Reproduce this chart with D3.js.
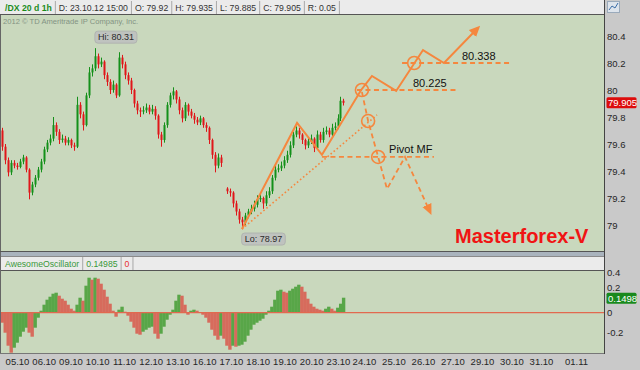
<!DOCTYPE html>
<html>
<head>
<meta charset="utf-8">
<script src="https://cdn.jsdelivr.net/npm/d3@7/dist/d3.min.js"></script>
<style>
  body { margin: 0; background: #c9c9c9; }
  svg { display: block; font-family: "Liberation Sans", Arial, sans-serif; }
</style>
</head>
<body>
<div id="chart"></div>
<script>
// /DX hourly chart, candles (one candle per ~2.7h)
var candleStart = -0.56, candleStep = 0.112;   // in trading-day units

var opens = [79.70,79.58,79.48,79.39,79.46,79.44,79.43,79.47,79.50,79.41,79.24,79.30,79.35,79.41,79.47,79.56,79.61,79.64,79.74,79.69,
  79.63,79.64,79.61,79.63,79.59,79.58,79.89,79.82,79.74,79.96,80.13,80.16,80.25,80.19,80.21,80.11,80.06,80.00,80.04,79.96,
  80.24,80.19,80.11,80.07,80.00,79.90,79.85,79.84,79.85,79.87,79.84,79.86,79.81,79.67,79.63,79.74,79.89,79.96,79.99,79.93,
  79.85,79.79,79.89,79.84,79.81,79.78,79.76,79.79,79.74,79.72,79.63,79.52,79.44,79.50,null,79.27,79.25,79.24,79.16,79.10,
  79.04,79.02,79.07,79.10,79.12,79.15,79.19,79.20,79.16,79.22,79.25,79.35,79.41,79.42,79.44,79.48,79.52,79.59,79.67,79.70,
  79.67,79.63,79.59,79.62,79.64,79.57,79.67,79.63,79.69,79.70,79.67,79.72,79.73,79.79,79.92];
var highs = [79.72,79.60,79.50,79.48,79.48,79.46,79.49,79.52,79.51,79.42,79.32,79.37,79.43,79.49,79.58,79.63,79.67,79.80,79.76,79.71,
  79.67,79.66,79.65,79.64,79.61,79.95,79.91,79.84,79.98,80.17,80.19,80.31,80.27,80.24,80.22,80.13,80.08,80.07,80.05,80.28,
  80.26,80.21,80.13,80.09,80.01,79.92,79.87,79.88,79.90,79.89,79.89,79.88,79.82,79.69,79.76,79.91,79.98,80.02,80.00,79.95,
  79.87,79.91,79.90,79.86,79.83,79.80,79.81,79.80,79.76,79.73,79.64,79.54,79.53,79.52,null,79.28,79.27,79.25,79.18,79.12,
  79.06,79.09,79.12,79.15,79.18,79.22,79.23,79.21,79.25,79.28,79.37,79.44,79.45,79.47,79.51,79.55,79.62,79.69,79.73,79.72,
  79.68,79.64,79.65,79.67,79.65,79.70,79.69,79.72,79.73,79.72,79.75,79.76,79.82,79.95,79.935];
var lows = [79.55,79.45,79.36,79.37,79.42,79.41,79.42,79.45,79.39,79.19,79.22,79.28,79.33,79.39,79.45,79.54,79.59,79.62,79.66,79.60,
  79.61,79.59,79.59,79.57,79.55,79.57,79.79,79.70,79.73,79.94,80.10,80.14,80.16,80.17,80.08,80.03,79.97,79.98,79.94,79.95,
  80.16,80.08,80.04,79.97,79.87,79.82,79.80,79.82,79.83,79.82,79.82,79.78,79.64,79.58,79.61,79.72,79.87,79.93,79.90,79.82,
  79.76,79.77,79.81,79.79,79.75,79.74,79.74,79.72,79.69,79.60,79.49,79.39,79.42,79.43,null,79.23,79.21,79.13,79.07,79.01,
  78.97,79.00,79.05,79.08,79.10,79.13,79.17,79.12,79.14,79.20,79.23,79.33,79.39,79.40,79.42,79.46,79.50,79.57,79.65,79.64,
  79.60,79.56,79.57,79.60,79.54,79.56,79.61,79.61,79.67,79.65,79.66,79.70,79.71,79.77,79.885];
var closes = [79.58,79.48,79.39,79.46,79.44,79.43,79.47,79.50,79.41,79.24,79.30,79.35,79.41,79.47,79.56,79.61,79.64,79.74,79.69,79.63,
  79.64,79.61,79.63,79.59,79.58,79.89,79.82,79.74,79.96,80.13,80.16,80.25,80.19,80.21,80.11,80.06,80.00,80.04,79.96,80.24,
  80.19,80.11,80.07,80.00,79.90,79.85,79.84,79.85,79.87,79.84,79.86,79.81,79.67,79.63,79.74,79.89,79.96,79.99,79.93,79.85,
  79.79,79.89,79.84,79.81,79.78,79.76,79.79,79.74,79.72,79.63,79.52,79.44,79.50,79.46,null,79.25,79.24,79.16,79.10,79.04,
  79.02,79.07,79.10,79.12,79.15,79.19,79.20,79.16,79.22,79.25,79.35,79.41,79.42,79.44,79.48,79.52,79.59,79.67,79.70,79.67,
  79.63,79.59,79.62,79.64,79.57,79.67,79.63,79.69,79.70,79.67,79.72,79.73,79.79,79.92,79.905];

var aoValues = [-0.10,-0.20,-0.33,-0.40,-0.35,-0.30,-0.24,-0.19,-0.15,-0.20,-0.24,-0.15,-0.05,0.02,0.08,0.13,0.16,0.19,0.20,0.17,
  0.14,0.12,0.08,0.04,0.02,0.08,0.15,0.12,0.27,0.35,0.33,0.35,0.34,0.29,0.23,0.16,0.09,0.02,-0.04,0.03,
  0.06,0.01,-0.03,-0.09,-0.15,-0.21,-0.22,-0.19,-0.17,-0.15,-0.14,-0.21,-0.26,-0.21,-0.14,-0.07,-0.02,0.03,0.12,0.18,
  0.17,0.08,-0.02,0.02,0.03,0.02,0.00,-0.02,-0.05,-0.10,-0.17,-0.23,-0.27,-0.23,-0.26,-0.33,-0.37,-0.33,-0.34,-0.33,
  -0.32,-0.29,-0.23,-0.17,-0.12,-0.10,-0.08,-0.06,-0.02,0.02,0.06,0.13,0.22,0.23,0.21,0.20,0.22,0.24,0.26,0.28,
  0.26,0.21,0.14,0.09,0.06,0.04,0.03,0.02,0.04,0.06,0.04,0.02,0.05,0.09,0.14985];

var dateLabels = ["05.10","06.10","09.10","10.10","11.10","12.10","13.10","16.10","17.10","18.10","19.10","20.10",
  "23.10","24.10","25.10","26.10","27.10","29.10","30.10","31.10","01.11"];
var dateDays = [0,1,2,3,4,5,6,7,8,9,10,11,12,13,14,15,16,17,18,19,20];
var priceTicks = [79, 79.2, 79.4, 79.6, 79.8, 80, 80.2, 80.4];
var aoTicks = [-0.2, 0, 0.2, 0.4];
var headerCells = ["/DX 20 d 1h", "D: 23.10.12 15:00", "O: 79.92", "H: 79.935", "L: 79.885", "C: 79.905", "R: 0.05"];
var aoCells = ["AwesomeOscillator", "0.14985", "0"];

// hand-drawn forecast, as [day, price]
var wavePath = [[8.41,78.97],[10.47,79.756],[11.40,79.52],[12.89,80.0],[13.27,80.104],[14.09,79.993],[15.0,80.296],[15.71,80.2],[16.86,80.459]];
var dropPath = [[12.92,79.985],[13.14,79.77],[13.48,79.504],[13.78,79.267],[14.39,79.504],[15.24,79.096]];
var trendLine = [[8.41,78.97],[13.44,79.815]];
var levelNames = ["80.225", "80.338", "Pivot MF"];
var levelPrices = [80.0, 80.2, 79.504];
var levelFrom = [12.73, 14.29, 11.40];
var levelTo = [16.19, 18.02, 15.37];
var levelLabelDay = [14.66, 16.32, 13.85];
var rings = [[12.92,80.0],[13.14,79.77],[13.48,79.504],[14.70,80.2]];

var W = 640, H = 370;
var plotR = 604, mainTop = 15, mainBot = 251, aoTop = 271, aoBot = 353;
var orange = "#f5873e";

var svg = d3.select("#chart").append("svg").attr("width", W).attr("height", H);

var x = d3.scaleLinear().domain([0, 12, 13, 19, 20]).range([17, 338, 364, 541, 576]);
var yP = d3.scaleLinear().domain([79, 80]).range([225, 90]);
var yA = d3.scaleLinear().domain([0, 0.4]).range([312.7, 272.7]);
var cx = function(i) { return x(candleStart + i * candleStep); };
var px = function(d) { return x(d[0]); }, py = function(d) { return yP(d[1]); };

// backgrounds
svg.append("rect").attr("width", W).attr("height", H).attr("fill", "#c9c9c9");
svg.append("rect").attr("x", 0).attr("y", mainTop).attr("width", plotR).attr("height", mainBot - mainTop).attr("fill", "#c9d8bd");
svg.append("rect").attr("x", 0).attr("y", aoTop).attr("width", plotR).attr("height", aoBot - aoTop).attr("fill", "#c9d8bd");
svg.append("rect").attr("x", 0).attr("y", 252).attr("width", plotR).attr("height", 4).attr("fill", "#a9b3bd");

// header bars
function headerBar(y0, cells, colors, bold) {
  var g = svg.append("g");
  g.append("rect").attr("x", 0).attr("y", y0).attr("width", plotR).attr("height", 14).attr("fill", "#ebebeb");
  g.append("line").attr("x1", 0).attr("x2", plotR).attr("y1", y0 + 14.5).attr("y2", y0 + 14.5).attr("stroke", "#555");
  var cxp = 1;
  cells.forEach(function(t, i) {
    var txt = g.append("text").attr("x", cxp + 4).attr("y", y0 + 10.5)
      .attr("font-size", "8.7px").attr("fill", colors[i] || "#333")
      .attr("font-weight", bold && i === 0 ? "bold" : null).text(t);
    var w = txt.node().getComputedTextLength();
    cxp += w + 7;
    g.append("line").attr("x1", cxp + 0.5).attr("x2", cxp + 0.5).attr("y1", y0 + 1).attr("y2", y0 + 14)
      .attr("stroke", "#a8a8a8");
  });
}
headerBar(0, headerCells, ["#1c8c1c"], true);
headerBar(256, aoCells, ["#3a983a", "#3a983a", "#e83030"], false);
svg.append("line").attr("x1", 0).attr("x2", plotR).attr("y1", 256.5).attr("y2", 256.5).attr("stroke", "#8a8a8a");

// top-right icon
svg.append("rect").attr("x", 607.5).attr("y", 1.5).attr("width", 12).attr("height", 11).attr("fill", "#dde4ec").attr("stroke", "#9aaabb");
svg.append("path").attr("d", "M609,10L612,6L615,8L618,3").attr("fill", "none").attr("stroke", "#3b6ea8");

svg.append("text").attr("x", 3).attr("y", 24).attr("font-size", "7.6px").attr("fill", "#839383")
  .text("2012 \u00a9 TD Ameritrade IP Company, Inc.");

// candles
svg.append("clipPath").attr("id", "mainClip").append("rect")
  .attr("x", 0).attr("y", mainTop).attr("width", plotR).attr("height", mainBot - mainTop);
var candleG = svg.append("g").attr("clip-path", "url(#mainClip)");
var idx = d3.range(closes.length).filter(function(i) { return closes[i] != null; });
var upCol = "#14901a", dnCol = "#e0161a";
var cg = candleG.selectAll("g.c").data(idx).enter().append("g")
  .attr("fill", function(i) { return closes[i] >= opens[i] ? upCol : dnCol; })
  .attr("stroke", function(i) { return closes[i] >= opens[i] ? upCol : dnCol; });
cg.append("line").attr("x1", function(i) { return Math.round(cx(i)) + 0.5; }).attr("x2", function(i) { return Math.round(cx(i)) + 0.5; })
  .attr("y1", function(i) { return yP(highs[i]); }).attr("y2", function(i) { return yP(lows[i]); });
cg.append("rect").attr("stroke", "none")
  .attr("x", function(i) { return Math.round(cx(i)) - 0.5; }).attr("width", 2)
  .attr("y", function(i) { return yP(Math.max(opens[i], closes[i])); })
  .attr("height", function(i) { return Math.max(1, Math.abs(yP(opens[i]) - yP(closes[i]))); });

// Hi / Lo boxes
var hiIdx = d3.maxIndex(highs), loIdx = d3.minIndex(lows);
function tag(x0, ycenter, label) {
  var g = svg.append("g");
  var t = g.append("text").attr("x", x0 + 3).attr("y", ycenter + 3.3).attr("font-size", "9px").attr("fill", "#2a2a2a").text(label);
  var w = t.node().getComputedTextLength();
  g.insert("rect", "text").attr("x", x0).attr("y", ycenter - 6).attr("width", w + 6).attr("height", 12).attr("rx", 3)
    .attr("fill", "#bfc3bf").attr("stroke", "#b0b4b0");
}
tag(cx(hiIdx), yP(highs[hiIdx]) - 11, "Hi: " + highs[hiIdx].toFixed(2));
tag(cx(loIdx), yP(lows[loIdx]) + 10, "Lo: " + lows[loIdx].toFixed(2));

// forecast drawing
var defs = svg.append("defs");
defs.append("marker").attr("id", "arrow").attr("viewBox", "0 -5 10 10").attr("refX", 7).attr("refY", 0)
  .attr("markerUnits", "userSpaceOnUse").attr("markerWidth", 11).attr("markerHeight", 11).attr("orient", "auto")
  .append("path").attr("d", "M0,-4.5L10,0L0,4.5Z").attr("fill", orange);

var line = d3.line().x(px).y(py);
var fg = svg.append("g").attr("fill", "none").attr("stroke", orange);
fg.append("path").attr("d", line(trendLine)).attr("stroke-width", 1.6).attr("stroke-dasharray", "1.6,2.4");
levelPrices.forEach(function(p, i) {
  fg.append("line").attr("x1", x(levelFrom[i])).attr("x2", x(levelTo[i])).attr("y1", yP(p)).attr("y2", yP(p))
    .attr("stroke-width", 1.8).attr("stroke-dasharray", "5,3.5");
  svg.append("text").attr("x", x(levelLabelDay[i])).attr("y", yP(p) - 3.5).attr("font-size", "11px")
    .attr("fill", "#111").text(levelNames[i]);
});
fg.append("path").attr("d", line(dropPath)).attr("stroke-width", 1.8).attr("stroke-dasharray", "5,3.5")
  .attr("marker-end", "url(#arrow)");
fg.append("path").attr("d", line(wavePath)).attr("stroke-width", 2).attr("stroke-linejoin", "miter")
  .attr("marker-end", "url(#arrow)");
fg.selectAll("circle").data(rings).enter().append("circle")
  .attr("cx", px).attr("cy", py).attr("r", 6.5).attr("stroke-width", 1.6);

svg.append("text").attr("x", 455).attr("y", 243).attr("font-size", "20px").attr("font-weight", "bold")
  .attr("fill", "#f01414").text("Masterforex-V");

// awesome oscillator
var bw = cx(1) - cx(0);
svg.append("g").selectAll("rect").data(aoValues).enter().append("rect")
  .attr("x", function(d, i) { return cx(i) - bw / 2; }).attr("width", bw + 0.4)
  .attr("y", function(d) { return Math.min(yA(d), yA(0)); })
  .attr("height", function(d) { return Math.abs(yA(d) - yA(0)); })
  .attr("fill", function(d, i) { return i > 0 && d >= aoValues[i - 1] ? "#58a648" : "#d76b5c"; });
svg.append("line").attr("x1", 0).attr("x2", plotR).attr("y1", yA(0)).attr("y2", yA(0)).attr("stroke", "#e2694f").attr("stroke-width", 1.2);

// frames
svg.append("line").attr("x1", plotR + 0.5).attr("x2", plotR + 0.5).attr("y1", 0).attr("y2", aoBot + 1).attr("stroke", "#444");
svg.append("line").attr("x1", 0.5).attr("x2", 0.5).attr("y1", mainTop).attr("y2", aoBot).attr("stroke", "#666");
svg.append("line").attr("x1", 0).attr("x2", plotR).attr("y1", mainBot + 0.5).attr("y2", mainBot + 0.5).attr("stroke", "#555");
svg.append("line").attr("x1", 0).attr("x2", plotR).attr("y1", aoBot + 0.5).attr("y2", aoBot + 0.5).attr("stroke", "#777");

// axes
var fmt = function(d) { return String(+d.toFixed(1)); };
var ay = svg.append("g").attr("transform", "translate(" + (plotR + 1) + ",0)")
  .call(d3.axisRight(yP).tickValues(priceTicks).tickSize(0).tickPadding(2).tickFormat(fmt));
var aa = svg.append("g").attr("transform", "translate(" + (plotR + 1) + ",0)")
  .call(d3.axisRight(yA).tickValues(aoTicks).tickSize(0).tickPadding(2).tickFormat(fmt));
var ax = svg.append("g").attr("transform", "translate(0," + (aoBot + 1) + ")")
  .call(d3.axisBottom(x).tickValues(dateDays).tickSize(0).tickPadding(4).tickFormat(function(d, i) { return dateLabels[i]; }));
[ay, aa, ax].forEach(function(a) {
  a.select(".domain").remove();
  a.selectAll("text").attr("font-family", "'Liberation Sans', Arial, sans-serif").attr("font-size", "9.5px").attr("fill", "#262626");
});
// the 0.2 label sits just above the last-value tag
aa.selectAll(".tick").filter(function(d) { return d === 0.2; }).select("text").attr("dy", "-0.25em");

// last value tags
function valueTag(yv, label, fill) {
  svg.append("rect").attr("x", plotR + 2.5).attr("y", yv - 5.5).attr("width", 30).attr("height", 11).attr("rx", 1.5).attr("fill", fill);
  svg.append("text").attr("x", plotR + 4).attr("y", yv + 3.5).attr("font-size", "9.5px").attr("fill", "#fff").text(label);
}
var lastAo = aoValues[aoValues.length - 1];
valueTag(yP(closes[closes.length - 1]), closes[closes.length - 1].toFixed(3), "#dd0c0c");
valueTag(yA(lastAo) + 0.6, (Math.floor(lastAo * 1e4) / 1e4).toFixed(4), "#19891d");
</script>
</body>
</html>
